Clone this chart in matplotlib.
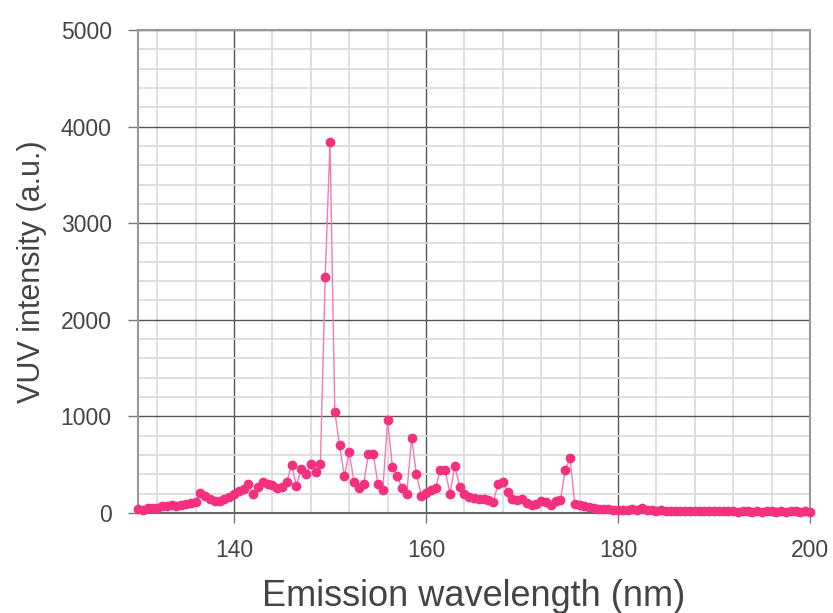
import matplotlib
matplotlib.use("Agg")
import matplotlib.pyplot as plt
from matplotlib.ticker import MultipleLocator

plt.rcParams['font.family'] = ['Liberation Sans', 'DejaVu Sans']

# wavelength grid (nm), 0.5 nm step
wavelength = [130 + 0.5 * i for i in range(141)]

intensity = [
    # 130 - 139.5
    40, 30, 50, 55, 50, 70, 75, 80, 70, 80,
    90, 100, 110, 210, 180, 150, 120, 120, 140, 170,
    # 140 - 149.5
    200, 230, 250, 300, 200, 270, 320, 300, 290, 260,
    270, 320, 500, 280, 460, 400, 510, 420, 510, 2440,
    # 150 - 159.5
    3840, 1050, 700, 380, 630, 320, 260, 300, 610, 610,
    300, 240, 960, 480, 380, 260, 200, 780, 400, 180,
    # 160 - 169.5
    210, 240, 260, 450, 440, 200, 490, 270, 200, 170,
    155, 140, 140, 130, 110, 300, 320, 220, 150, 130,
    # 170 - 179.5
    140, 100, 80, 90, 120, 110, 80, 120, 130, 440,
    570, 90, 80, 70, 65, 55, 45, 40, 40, 35,
    # 180 - 189.5
    30, 35, 30, 40, 30, 50, 30, 28, 25, 30,
    25, 22, 25, 20, 25, 22, 20, 25, 18, 20,
    # 190 - 199.5
    20, 18, 22, 18, 20, 15, 18, 20, 15, 18,
    15, 18, 20, 15, 18, 15, 20, 18, 15, 18,
    # 200
    15,
]

x_ticks = [140, 160, 180, 200]
y_ticks = [0, 1000, 2000, 3000, 4000, 5000]

fig = plt.figure(figsize=(8.33, 6.13), dpi=100)
ax = fig.add_axes([138 / 833, 1 - 513 / 613, (810 - 138) / 833, (513 - 30) / 613])

ax.plot(wavelength, intensity, color='#f57aae', lw=1.0, zorder=3, clip_on=False)
ax.plot(wavelength, intensity, ls='none', marker='o', ms=6,
        mfc='#f5307f', mec='#f5307f', zorder=4, clip_on=False)

ax.set_xlim(130, 200)
ax.set_ylim(0, 5000)
ax.set_xticks(x_ticks)
ax.set_yticks(y_ticks)
ax.xaxis.set_minor_locator(MultipleLocator(4))
ax.yaxis.set_minor_locator(MultipleLocator(200))

ax.grid(which='minor', color='#dcdcdc', lw=1.3, zorder=0)
ax.grid(which='major', color='#555555', lw=1.0, zorder=1)
ax.set_axisbelow(True)

for s in ['left', 'right', 'top', 'bottom']:
    ax.spines[s].set_color('#999999')
    ax.spines[s].set_linewidth(1.5)
ax.spines['bottom'].set_color('#666666')

ax.tick_params(which='major', direction='out', length=7, width=1, color='#777777',
               labelsize=16.5, labelcolor='#444444', pad=12)
ax.tick_params(axis='x', which='major', pad=12)
ax.tick_params(which='minor', length=0)

ax.set_xlabel('Emission wavelength (nm)', fontsize=26, color='#444444', labelpad=12)
ax.set_ylabel('VUV intensity (a.u.)', fontsize=22, color='#444444', labelpad=10)

fig.savefig('out.png', dpi=100)
